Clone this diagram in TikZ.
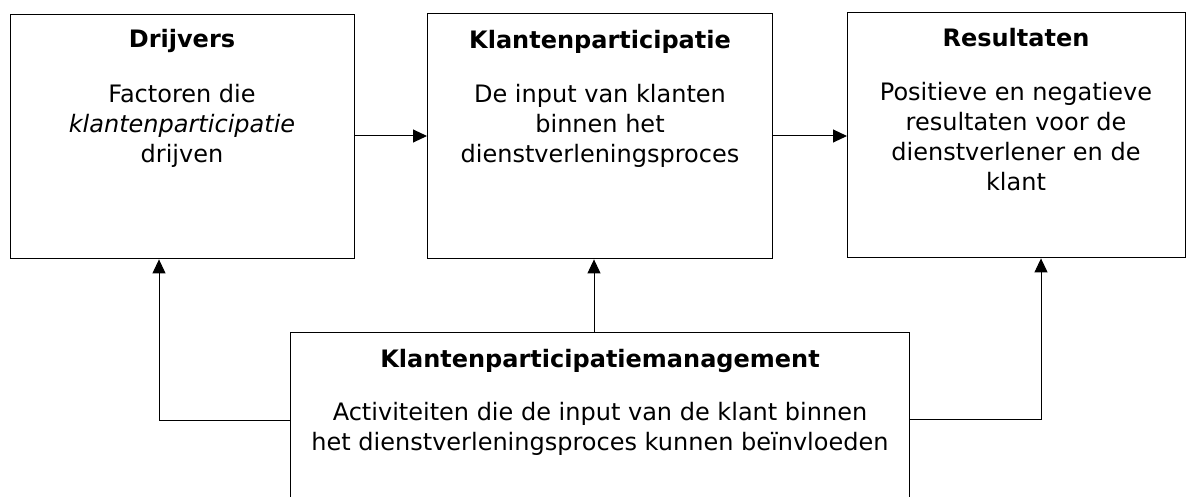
\documentclass[tikz,border=0pt]{standalone}
\usepackage{fontspec}
\setmainfont{DejaVu Sans}
\usetikzlibrary{arrows.meta}
\tikzset{
  box/.style={draw=black, line width=1.4pt, inner sep=0pt, anchor=north west},
  ttl/.style={anchor=base, inner sep=0pt, font=\fontsize{24}{30}\selectfont\bfseries},
  body/.style={anchor=north, inner sep=0pt, align=center, font=\fontsize{24}{30}\selectfont},
  arr/.style={draw=black, line width=1pt, -{Triangle[length=14pt,width=13pt]}},
  lnk/.style={draw=black, line width=1pt}
}
\begin{document}
\begin{tikzpicture}[x=1pt,y=-1pt]
\clip (0,0) rectangle (1186,497);
\useasboundingbox (0,0) rectangle (1186,497);
% boxes
\node[box, minimum width=344pt, minimum height=244pt] (b1) at (10,14) {};
\node[box, minimum width=345pt, minimum height=245pt] (b2) at (427,13) {};
\node[box, minimum width=338pt, minimum height=245pt] (b3) at (847,12) {};
\node[box, minimum width=619pt, minimum height=200pt] (b4) at (290,332) {};
% texts
\node[ttl] (t1) at (182,48) {Drijvers};
\node[body] (d1) at (182,84) {Factoren die\\\textit{klantenparticipatie}\\drijven};
\node[ttl] (t2) at (600,49) {Klantenparticipatie};
\node[body] (d2) at (600,84) {De input van klanten\\binnen het\\dienstverleningsproces};
\node[ttl] (t3) at (1016,47) {Resultaten};
\node[body] (d3) at (1016,82) {Positieve en negatieve\\resultaten voor de\\dienstverlener en de\\klant};
\node[ttl] (t4) at (600,367) {Klantenparticipatiemanagement};
\node[body] (d4) at (600,402) {Activiteiten die de input van de klant binnen\\het dienstverleningsproces kunnen beïnvloeden};
% connector helper coordinates
\coordinate (ya) at (0,136);
\coordinate (cl) at (159,420);
\coordinate (cm) at (594,0);
\coordinate (cr) at (1041,419);
% arrows
\draw[arr] (b1.east |- ya) -- (b2.west |- ya);
\draw[arr] (b2.east |- ya) -- (b3.west |- ya);
\draw[arr] (b4.west |- cl) -| (b1.south -| cl);
\draw[arr] (b4.north -| cm) -- (b2.south -| cm);
\draw[arr] (b4.east |- cr) -| (b3.south -| cr);
\end{tikzpicture}
\end{document}
